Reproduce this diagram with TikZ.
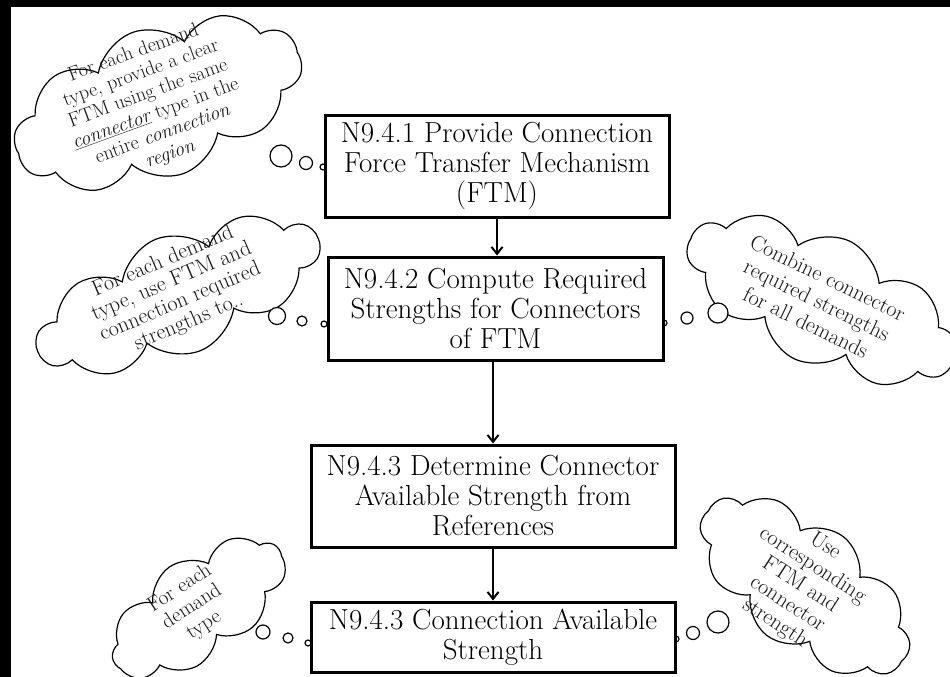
\documentclass[tikz,border=0pt]{standalone}
\usetikzlibrary{shapes.symbols,arrows.meta}
\begin{document}
\begin{tikzpicture}[x=1pt,y=-1pt,
  box/.style={draw, line width=3pt, fill=white, inner sep=0pt, align=center, font=\fontsize{29}{30}\selectfont},
  thought/.style={cloud, cloud puffs=10, cloud puff arc=120, cloud ignores aspect, draw, line width=1.2pt, fill=white, inner sep=0pt},
  ctext/.style={align=center, inner sep=0pt, text=black!90},
  bub/.style={circle, draw, line width=1.2pt, fill=white, inner sep=0pt},
  arr/.style={line width=2pt, -{Straight Barb[length=7pt,width=11pt]}}]
\useasboundingbox (0,0) rectangle (950,677);
\fill[white] (0,0) rectangle (950,677);
\fill[black] (0,0) rectangle (950,7);
\fill[black] (0,0) rectangle (11,677);

% clouds
\node[thought, minimum width=300pt, minimum height=150pt, rotate=20] (c1) at (158,103) {};
\node[ctext, rotate=20, font=\fontsize{20}{21.5}\selectfont] (t1) at (152,104)
  {For each demand\\type, provide a clear\\FTM using the same\\\underline{\itshape connector} type in the\\entire \textit{connection}\\\textit{region}};

\node[thought, minimum width=300pt, minimum height=120pt, rotate=22] (c2) at (178,295) {};
\node[ctext, rotate=23, font=\fontsize{22}{22}\selectfont] (t2) at (176,292)
  {For each demand\\type, use FTM and\\connection required\\strengths to..};

\node[thought, minimum width=290pt, minimum height=130pt, rotate=-25] (c3) at (822,300) {};
\node[ctext, rotate=-26, font=\fontsize{22}{25}\selectfont] (t3) at (817,300)
  {Combine connector\\required strengths\\for all demands};

\node[thought, minimum width=248pt, minimum height=125pt, rotate=-38] (c4) at (805,586) {};
\node[ctext, rotate=-33, font=\fontsize{22}{23}\selectfont] (t4) at (800,585)
  {Use\\corresponding\\FTM and\\connector\\strength};

\node[thought, cloud puffs=9, minimum width=200pt, minimum height=100pt, rotate=35] (c5) at (198,608) {};
\node[ctext, rotate=33, font=\fontsize{21}{22}\selectfont] (t5) at (192,607)
  {For each\\demand\\type};

% thought bubbles
\node[bub, minimum size=22pt] (p1a) at (281,156) {};
\node[bub, minimum size=13pt] (p1b) at (306,163) {};
\node[bub, minimum size=6pt]  (p1c) at (323,167) {};

\node[bub, minimum size=17pt] (p2a) at (277,316) {};
\node[bub, minimum size=10pt] (p2b) at (302,321) {};
\node[bub, minimum size=6pt]  (p2c) at (324,324) {};

\node[bub, minimum size=6pt]  (p3c) at (664,323) {};
\node[bub, minimum size=12pt] (p3b) at (687,318) {};
\node[bub, minimum size=20pt] (p3a) at (718,313) {};

\node[bub, minimum size=6pt]  (p4c) at (676,639) {};
\node[bub, minimum size=13pt] (p4b) at (693,633) {};
\node[bub, minimum size=22pt] (p4a) at (718,622) {};

\node[bub, minimum size=14pt] (p5a) at (263,632) {};
\node[bub, minimum size=10pt] (p5b) at (288,638) {};
\node[bub, minimum size=6pt]  (p5c) at (308,643) {};

% boxes
\node[box, minimum width=344pt, minimum height=102pt] (b1) at (497,166)
  {N9.4.1 Provide Connection\\Force Transfer Mechanism\\(FTM)};
\node[box, minimum width=335pt, minimum height=103pt] (b2) at (495.5,308.5)
  {N9.4.2 Compute Required\\Strengths for Connectors\\of FTM};
\node[box, minimum width=364pt, minimum height=102pt] (b3) at (493,496)
  {N9.4.3 Determine Connector\\Available Strength from\\References};
\node[box, minimum width=364pt, minimum height=70pt] (b4) at (493,637)
  {N9.4.3 Connection Available\\Strength};

% arrows
\draw[arr] (b1.south) -- (b1.south |- b2.north);
\draw[arr] (b2.south -| b3.north) -- (b3.north);
\draw[arr] (b3.south) -- (b4.north);
\end{tikzpicture}
\end{document}
